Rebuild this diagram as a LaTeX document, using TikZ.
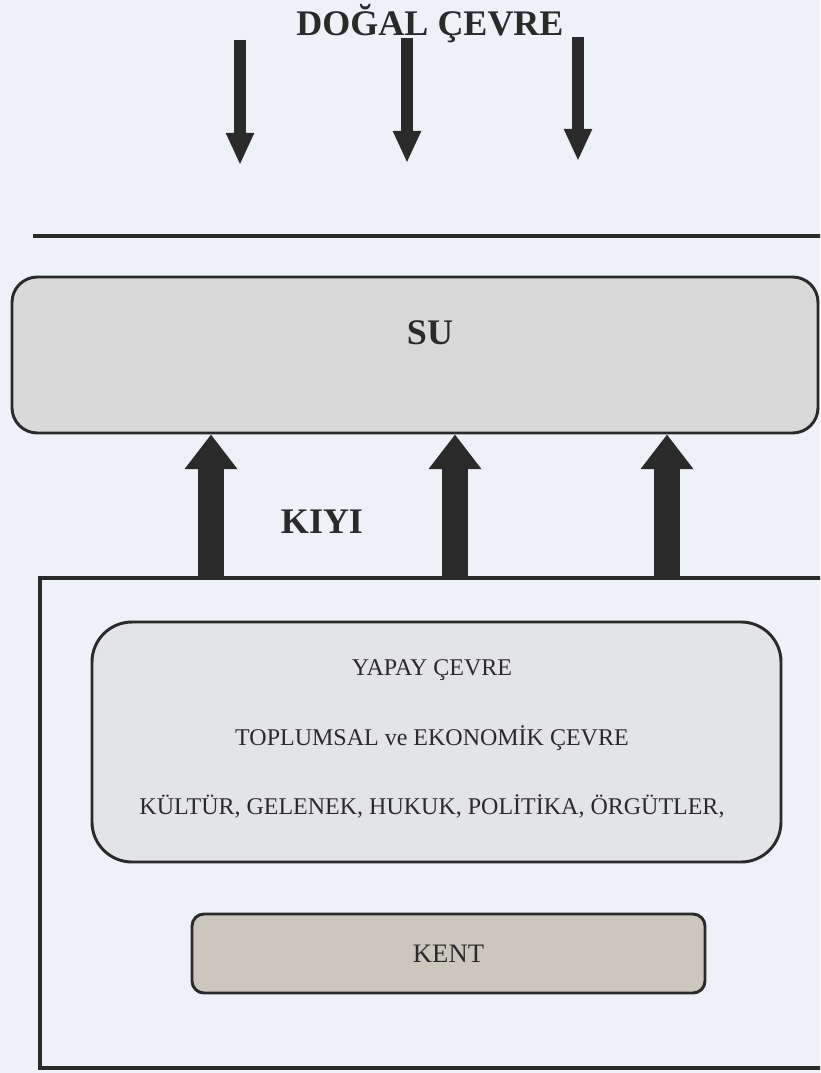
\documentclass[tikz,border=0pt]{standalone}
\usepackage{fontspec}
\setmainfont{Liberation Serif}
\usetikzlibrary{arrows.meta,calc,positioning}
\definecolor{paper}{HTML}{EEF1F7}
\definecolor{ink}{HTML}{2A2A2A}
\definecolor{sufill}{HTML}{D9D9D9}
\definecolor{yapayfill}{HTML}{E3E4E7}
\definecolor{kentfill}{HTML}{CCC7BD}

\begin{document}
\begin{tikzpicture}[x=0.75pt,y=-0.75pt,
  box/.style={draw=ink,line width=2.2pt,inner sep=0pt},
  bigfont/.style={font=\fontsize{27}{30}\selectfont\bfseries,text=ink},
  midfont/.style={font=\fontsize{18}{21}\selectfont,text=ink},
  uparrow/.style={draw=ink,line width=19.5pt,-{Triangle[width=38pt,length=26pt]}},
  downarrow/.style={draw=ink,line width=9pt,-{Triangle[width=19.5pt,length=24pt]}}]
\clip (0,0) rectangle (820,1073);
\fill[paper] (0,0) rectangle (820,1073);

\node[bigfont] (title) at (430,24) {DOĞAL ÇEVRE};
\coordinate (d1) at (240,40);
\coordinate (d2) at (407,38);
\coordinate (d3) at (578,37);
\coordinate (e1) at (240,165);
\coordinate (e2) at (407,163);
\coordinate (e3) at (578,161);
\foreach \i in {1,2,3}
  \draw[downarrow] (d\i) -- (e\i);

\coordinate (lineL) at (33,236);
\coordinate (lineR) at (830,236);
\draw[ink,line width=3.5pt] (lineL) -- (lineR);

\node[box,fill=sufill,rounded corners=19pt,minimum width=604.5pt,minimum height=117pt] (su) at (415,355) {};
\node[bigfont] (sutext) at (430,333) {SU};

\node[box,fill=paper,line width=3pt,minimum width=592.5pt,minimum height=367.5pt] (kiyibox) at (435,823) {};
\node[bigfont] (kiyi) at (322,522) {KIYI};

\coordinate (u1) at (211,0);
\coordinate (u2) at (455,0);
\coordinate (u3) at (667,0);
\foreach \i in {1,2,3}
  \draw[uparrow] (kiyibox.north -| u\i) -- (su.south -| u\i);

\node[box,fill=yapayfill,rounded corners=30pt,minimum width=516.75pt,minimum height=180pt] (yapay) at (436.5,742) {};
\node[midfont] (yapaytext) at (432,670) {YAPAY ÇEVRE};
\node[midfont] (toplum) at (432,738) {TOPLUMSAL ve EKONOMİK ÇEVRE};
\node[midfont] (kultur) at (432,806) {KÜLTÜR, GELENEK, HUKUK, POLİTİKA, ÖRGÜTLER,};

\node[box,fill=kentfill,rounded corners=9pt,minimum width=384.75pt,minimum height=59.25pt,
  font=\fontsize{20}{24}\selectfont,text=ink] (kent) at (448.5,953.5) {KENT};
\end{tikzpicture}
\end{document}
